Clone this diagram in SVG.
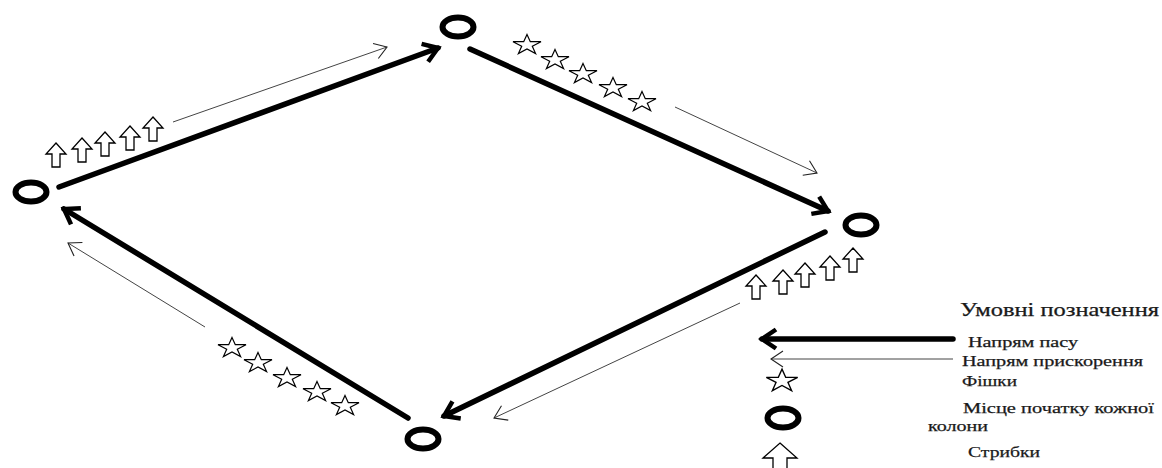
<svg xmlns="http://www.w3.org/2000/svg" xmlns:xlink="http://www.w3.org/1999/xlink" width="1162" height="468" viewBox="0 0 1162 468">
<style>
.station{fill:none;stroke:#000;stroke-width:6}
.pass{fill:none;stroke:#000;stroke-width:5.5;stroke-linecap:round;marker-end:url(#thick)}
.accel{fill:none;stroke:#444;stroke-width:1;marker-end:url(#thin)}
.chip{fill:#fff;stroke:#000;stroke-width:1.2;stroke-linejoin:miter}
.jump{fill:#fff;stroke:#000;stroke-width:1.3}
.lbl{fill:#1a1a1a;stroke:#1a1a1a;stroke-width:0.25;font-family:"Liberation Serif","DejaVu Serif",serif}
</style>
<defs>
<marker id="thick" markerUnits="userSpaceOnUse" markerWidth="40" markerHeight="40" viewBox="-20 -20 40 40" refX="0" refY="0" orient="auto" overflow="visible">
<path d="M-14,-9.5 L0,0 L-14,9.5" fill="none" stroke="#000" stroke-width="4.5" stroke-linejoin="miter"/>
</marker>
<marker id="thin" markerUnits="userSpaceOnUse" markerWidth="40" markerHeight="40" viewBox="-20 -20 40 40" refX="0" refY="0" orient="auto" overflow="visible">
<path d="M-12,-8 L0,0 L-12,8" fill="none" stroke="#222" stroke-width="1.1"/>
</marker>
<path id="star" d="M0,-10.6 L3.3,-3.3 L14,-3.3 L5.3,1.25 L8.6,8.6 L0,4 L-8.6,8.6 L-5.3,1.25 L-14,-3.3 L-3.3,-3.3 Z"/>
<path id="up" d="M0,0 L10,11 L4,11 L4,24 L-4,24 L-4,11 L-10,11 Z"/>
</defs>

<g id="connectors">
<line class="pass" x1="59" y1="187" x2="438" y2="48"/>
<line class="pass" x1="470" y1="49" x2="828" y2="211"/>
<line class="pass" x1="825" y1="232" x2="444" y2="416"/>
<line class="pass" x1="408" y1="418" x2="64" y2="209"/>
<line class="accel" x1="173" y1="122" x2="387" y2="47"/>
<line class="accel" x1="675" y1="107" x2="817" y2="173"/>
<line class="accel" x1="740" y1="303" x2="494" y2="418"/>
<line class="accel" x1="205" y1="327" x2="68" y2="243"/>
</g>

<g id="station-left"><ellipse class="station" cx="31" cy="192" rx="15.5" ry="9.5"/></g>
<g id="station-top"><ellipse class="station" cx="458" cy="27" rx="15.5" ry="9.5"/></g>
<g id="station-right"><ellipse class="station" cx="861" cy="225" rx="15.5" ry="9.5"/></g>
<g id="station-bottom"><ellipse class="station" cx="423" cy="439" rx="15.5" ry="9.5"/></g>

<g id="jumps-left">
<use xlink:href="#up" class="jump" x="56" y="143"/>
<use xlink:href="#up" class="jump" x="82" y="138"/>
<use xlink:href="#up" class="jump" x="105" y="132"/>
<use xlink:href="#up" class="jump" x="130" y="126"/>
<use xlink:href="#up" class="jump" x="153" y="117"/>
</g>
<g id="jumps-right">
<use xlink:href="#up" class="jump" x="756" y="275"/>
<use xlink:href="#up" class="jump" x="783" y="270"/>
<use xlink:href="#up" class="jump" x="805" y="263"/>
<use xlink:href="#up" class="jump" x="830" y="256"/>
<use xlink:href="#up" class="jump" x="853" y="248"/>
</g>

<g id="chips-top">
<use xlink:href="#star" class="chip" x="527" y="45"/>
<use xlink:href="#star" class="chip" x="555" y="60"/>
<use xlink:href="#star" class="chip" x="583" y="74"/>
<use xlink:href="#star" class="chip" x="613" y="88"/>
<use xlink:href="#star" class="chip" x="642" y="102"/>
</g>
<g id="chips-bottom">
<use xlink:href="#star" class="chip" x="232" y="348"/>
<use xlink:href="#star" class="chip" x="258" y="363"/>
<use xlink:href="#star" class="chip" x="287" y="378"/>
<use xlink:href="#star" class="chip" x="317" y="392"/>
<use xlink:href="#star" class="chip" x="345" y="406"/>
</g>

<g id="legend" font-size="15">
<text class="lbl" x="960" y="316" font-size="18" textLength="199" lengthAdjust="spacingAndGlyphs">Умовні позначення</text>
<g id="legend-pass">
<line class="pass" x1="953" y1="339" x2="762" y2="339"/>
<text class="lbl" x="968" y="347" textLength="110" lengthAdjust="spacingAndGlyphs">Напрям пасу</text>
</g>
<g id="legend-accel">
<line class="accel" x1="953" y1="359" x2="771" y2="359"/>
<text class="lbl" x="962" y="366" textLength="181" lengthAdjust="spacingAndGlyphs">Напрям прискорення</text>
</g>
<g id="legend-chip">
<use xlink:href="#star" class="chip" transform="translate(782,381) scale(1.12)"/>
<text class="lbl" x="962" y="386" textLength="55" lengthAdjust="spacingAndGlyphs">Фішки</text>
</g>
<g id="legend-station">
<ellipse class="station" cx="783" cy="418" rx="15.5" ry="9.5"/>
<text class="lbl" x="963" y="413" textLength="191" lengthAdjust="spacingAndGlyphs">Місце початку кожної</text>
<text class="lbl" x="928" y="431" textLength="60" lengthAdjust="spacingAndGlyphs">колони</text>
</g>
<g id="legend-jump">
<path class="jump" d="M780,443 L797,458 L787,458 L787,472 L773,472 L773,458 L763,458 Z"/>
<text class="lbl" x="968" y="457" textLength="72" lengthAdjust="spacingAndGlyphs">Стрибки</text>
</g>
</g>
</svg>
